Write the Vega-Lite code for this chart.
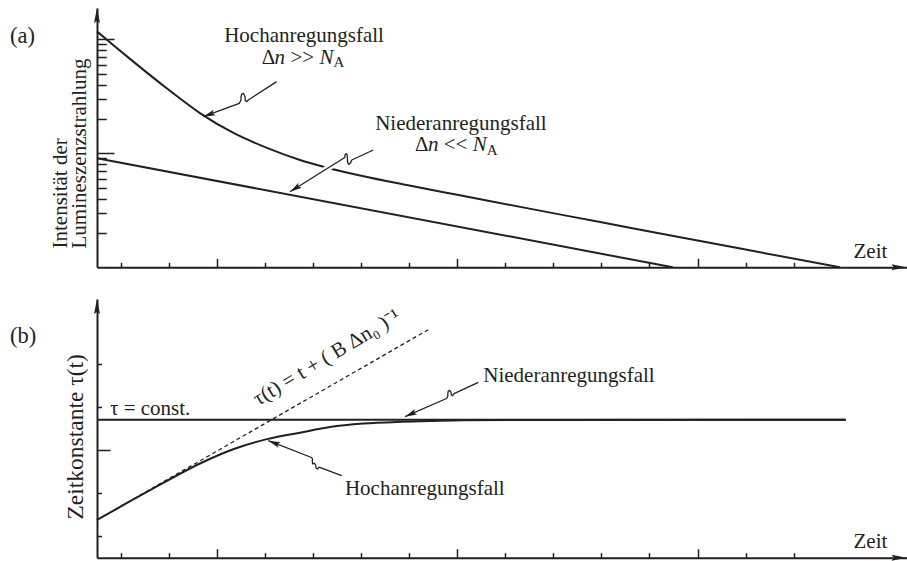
{
  "$schema": "https://vega.github.io/schema/vega-lite/v6.json",
  "padding": {"left": 10, "top": 8, "right": 0, "bottom": 0},
  "bounds": "flush",
  "spacing": 31,
  "config": {
    "view": {"stroke": null},
    "font": "Liberation Serif",
    "axis": {"grid": false, "labels": false, "domainColor": "#231f20", "domainWidth": 2, "tickColor": "#231f20", "tickWidth": 1.5, "titleFont": "Liberation Serif", "titleFontSize": 21, "titleFontWeight": "normal", "titleColor": "#231f20"},
    "text": {"font": "Liberation Serif", "fontSize": 21, "color": "#231f20"}
  },
  "datasets": {
    "aHigh": [{"t":0,"v":117},{"t":0.5,"v":95.6},{"t":1.5,"v":64},{"t":2.9,"v":37.2},{"t":4.3,"v":22.4},{"t":5.7,"v":15.0},{"t":7.1,"v":11.1},{"t":8.45,"v":8.74},{"t":9.42,"v":7.63},{"t":11,"v":6.35},{"t":13,"v":5.21},{"t":15,"v":4.32},{"t":18,"v":3.27},{"t":21,"v":2.48},{"t":24,"v":1.88},{"t":27,"v":1.43},{"t":30.93,"v":1.0}],
    "aLow": [{"t":0,"v":9.04},{"t":23.97,"v":1}],
    "aHalo": [{"t":9.825,"v":7.912},{"t":9.325,"v":6.799}],
    "aLead": [
      {"id":"h","i":0,"t":7.481,"v":42.47},{"id":"h","i":1,"t":6.299,"v":29.35},{"id":"h","i":2,"t":6.232,"v":28.35},{"id":"h","i":3,"t":6.174,"v":29.05},{"id":"h","i":4,"t":6.162,"v":31.37},{"id":"h","i":5,"t":6.091,"v":33.6},{"id":"h","i":6,"t":6.024,"v":32.99},{"id":"h","i":7,"t":5.995,"v":31.18},{"id":"h","i":8,"t":5.995,"v":29.35},{"id":"h","i":9,"t":5.924,"v":27.45},{"id":"h","i":10,"t":4.425,"v":20.95},
      {"id":"n","i":0,"t":11.503,"v":10.69},{"id":"n","i":1,"t":10.604,"v":8.735},{"id":"n","i":2,"t":10.554,"v":8.222},{"id":"n","i":3,"t":10.483,"v":8.009},{"id":"n","i":4,"t":10.433,"v":8.306},{"id":"n","i":5,"t":10.425,"v":9.003},{"id":"n","i":6,"t":10.416,"v":9.663},{"id":"n","i":7,"t":10.375,"v":9.94},{"id":"n","i":8,"t":10.325,"v":9.663},{"id":"n","i":9,"t":10.316,"v":9.188},{"id":"n","i":10,"t":8.035,"v":4.605}
    ],
    "aTipH": [{"t":4.425,"v":20.95}],
    "aTipN": [{"t":8.035,"v":4.605}],
    "aArrUp": [{"t":0,"v":188}],
    "aArrRight": [{"t":33.7,"v":1}],
    "aTag": [{"t":-3.62,"v":92.2,"text":"(a)"}],
    "aTextC": [{"t":8.62,"v":94.7,"text":"Hochanregungsfall"},{"t":15.15,"v":16.01,"text":"Niederanregungsfall"}],
    "aTextL": [{"t":6.857,"v":61.2,"text":"Δ"},{"t":8.052,"v":61.2,"text":">>"},{"t":13.239,"v":10.37,"text":"Δ"},{"t":14.434,"v":10.37,"text":"<<"}],
    "aTextI": [{"t":7.394,"v":61.2,"text":"n"},{"t":9.259,"v":61.2,"text":"N"},{"t":13.776,"v":10.37,"text":"n"},{"t":15.641,"v":10.37,"text":"N"}],
    "aTextS": [{"t":9.842,"v":57.3,"text":"A"},{"t":16.224,"v":9.66,"text":"A"}],
    "bConst": [{"t":0,"y":6.4},{"t":31.17,"y":6.4}],
    "bHigh": [{"t":0,"y":1.75},{"t":2.21,"y":3.13},{"t":4.29,"y":4.37},{"t":5.67,"y":5.03},{"t":7.07,"y":5.5},{"t":8.45,"y":5.8},{"t":9.7,"y":6.06},{"t":11.09,"y":6.22},{"t":12.48,"y":6.3},{"t":13.86,"y":6.34},{"t":15.24,"y":6.375},{"t":18,"y":6.39},{"t":31.17,"y":6.395}],
    "bDash": [{"t":0,"y":1.75},{"t":13.86,"y":10.62}],
    "bLead": [
      {"id":"n","i":0,"t":15.874,"y":8.131},{"id":"n","i":1,"t":14.863,"y":7.607},{"id":"n","i":2,"t":14.804,"y":7.514},{"id":"n","i":3,"t":14.746,"y":7.56},{"id":"n","i":4,"t":14.738,"y":7.676},{"id":"n","i":5,"t":14.679,"y":7.76},{"id":"n","i":6,"t":14.621,"y":7.723},{"id":"n","i":7,"t":14.605,"y":7.607},{"id":"n","i":8,"t":14.605,"y":7.491},{"id":"n","i":9,"t":14.55,"y":7.384},{"id":"n","i":10,"t":12.823,"y":6.54},
      {"id":"h","i":0,"t":10.187,"y":3.803},{"id":"h","i":1,"t":9.242,"y":4.198},{"id":"h","i":2,"t":9.18,"y":4.114},{"id":"h","i":3,"t":9.117,"y":4.161},{"id":"h","i":4,"t":9.109,"y":4.29},{"id":"h","i":5,"t":9.047,"y":4.383},{"id":"h","i":6,"t":8.98,"y":4.346},{"id":"h","i":7,"t":8.963,"y":4.453},{"id":"h","i":8,"t":8.972,"y":4.569},{"id":"h","i":9,"t":8.93,"y":4.647},{"id":"h","i":10,"t":7.132,"y":5.427}
    ],
    "bTipN": [{"t":12.823,"y":6.54}],
    "bTipH": [{"t":7.132,"y":5.427}],
    "bArrUp": [{"t":0,"y":12}],
    "bArrRight": [{"t":33.7,"y":0}],
    "bTag": [{"t":-3.62,"y":9.97,"text":"(b)"}],
    "bTextL": [{"t":0.54,"y":6.6,"text":"τ = const."},{"t":16.08,"y":8.16,"text":"Niederanregungsfall"},{"t":10.32,"y":2.92,"text":"Hochanregungsfall"}],
    "bTextR": [{"t":6.715,"y":7.04,"text":"τ(t) = t + ( B Δn₀ )⁻¹"}]
  },
  "vconcat": [
    {
      "width": 809.5,
      "height": 259.3,
      "layer": [
        {
          "data": {"name": "aHigh"},
          "mark": {"type": "line", "color": "#231f20", "strokeWidth": 2, "interpolate": "monotone"},
          "encoding": {
            "x": {"field": "t", "type": "quantitative", "scale": {"domain": [0, 33.7], "nice": false, "zero": false},
              "axis": {"title": "Zeit", "titleX": 756, "titleY": -10, "titleAlign": "left", "titleBaseline": "alphabetic", "titleAngle": 0,
                "values": [1,2,3,4,5,6,7,8,9,10,11,12,13,14,15,16,17,18,19,20,21,22,23,24,25,26,27,28,29,30],
                "tickSize": {"condition": {"test": "datum.value % 5 === 0", "value": -9}, "value": -5}}},
            "y": {"field": "v", "type": "quantitative", "scale": {"type": "log", "domain": [1, 188], "nice": false},
              "axis": {"title": ["Intensität der", "Lumineszenzstrahlung"], "titleAngle": -90, "titleAlign": "left", "titleBaseline": "alphabetic", "titleX": -31, "titleY": 240, "titleLineHeight": 19,
                "values": [2,3,4,5,6,7,8,9,10,20,30,40,50,60,70,80,90,100],
                "tickSize": {"condition": {"test": "datum.value === 10 || datum.value === 100", "value": -17}, "value": -9.3}}}
          }
        },
        {"data": {"name": "aLow"}, "mark": {"type": "line", "color": "#231f20", "strokeWidth": 2},
          "encoding": {"x": {"field": "t", "type": "quantitative"}, "y": {"field": "v", "type": "quantitative"}}},
        {"data": {"name": "aHalo"}, "mark": {"type": "line", "color": "white", "strokeWidth": 6},
          "encoding": {"x": {"field": "t", "type": "quantitative"}, "y": {"field": "v", "type": "quantitative"}}},
        {"data": {"name": "aLead"}, "mark": {"type": "line", "color": "#231f20", "strokeWidth": 1.3, "interpolate": "linear", "strokeJoin": "round"},
          "encoding": {"x": {"field": "t", "type": "quantitative"}, "y": {"field": "v", "type": "quantitative"}, "detail": {"field": "id"}, "order": {"field": "i", "type": "quantitative"}}},
        {"data": {"name": "aTipH"}, "mark": {"type": "point", "shape": "M0,0 L0.25,1 L0,0.8 L-0.25,1 Z", "filled": true, "size": 576, "opacity": 1, "color": "#231f20", "strokeWidth": 0, "angle": 250},
          "encoding": {"x": {"field": "t", "type": "quantitative"}, "y": {"field": "v", "type": "quantitative"}}},
        {"data": {"name": "aTipN"}, "mark": {"type": "point", "shape": "M0,0 L0.25,1 L0,0.8 L-0.25,1 Z", "filled": true, "size": 576, "opacity": 1, "color": "#231f20", "strokeWidth": 0, "angle": 238},
          "encoding": {"x": {"field": "t", "type": "quantitative"}, "y": {"field": "v", "type": "quantitative"}}},
        {"data": {"name": "aArrUp"}, "mark": {"type": "point", "shape": "M0,0 L0.2,1 L0,0.85 L-0.2,1 Z", "filled": true, "size": 900, "opacity": 1, "color": "#231f20", "strokeWidth": 0, "angle": 0},
          "encoding": {"x": {"field": "t", "type": "quantitative"}, "y": {"field": "v", "type": "quantitative"}}},
        {"data": {"name": "aArrRight"}, "mark": {"type": "point", "shape": "M0,0 L0.2,1 L0,0.85 L-0.2,1 Z", "filled": true, "size": 900, "opacity": 1, "color": "#231f20", "strokeWidth": 0, "angle": 90},
          "encoding": {"x": {"field": "t", "type": "quantitative"}, "y": {"field": "v", "type": "quantitative"}}},
        {"data": {"name": "aTag"}, "mark": {"type": "text", "align": "left", "baseline": "alphabetic", "fontSize": 22.5},
          "encoding": {"x": {"field": "t", "type": "quantitative"}, "y": {"field": "v", "type": "quantitative"}, "text": {"field": "text"}}},
        {"data": {"name": "aTextC"}, "mark": {"type": "text", "align": "center", "baseline": "alphabetic"},
          "encoding": {"x": {"field": "t", "type": "quantitative"}, "y": {"field": "v", "type": "quantitative"}, "text": {"field": "text"}}},
        {"data": {"name": "aTextL"}, "mark": {"type": "text", "align": "left", "baseline": "alphabetic"},
          "encoding": {"x": {"field": "t", "type": "quantitative"}, "y": {"field": "v", "type": "quantitative"}, "text": {"field": "text"}}},
        {"data": {"name": "aTextI"}, "mark": {"type": "text", "align": "left", "baseline": "alphabetic", "fontStyle": "italic"},
          "encoding": {"x": {"field": "t", "type": "quantitative"}, "y": {"field": "v", "type": "quantitative"}, "text": {"field": "text"}}},
        {"data": {"name": "aTextS"}, "mark": {"type": "text", "align": "left", "baseline": "alphabetic", "fontSize": 15},
          "encoding": {"x": {"field": "t", "type": "quantitative"}, "y": {"field": "v", "type": "quantitative"}, "text": {"field": "text"}}}
      ]
    },
    {
      "width": 809.5,
      "height": 258.7,
      "layer": [
        {
          "data": {"name": "bConst"},
          "mark": {"type": "line", "color": "#231f20", "strokeWidth": 2},
          "encoding": {
            "x": {"field": "t", "type": "quantitative", "scale": {"domain": [0, 33.7], "nice": false, "zero": false},
              "axis": {"title": "Zeit", "titleX": 756, "titleY": -10.3, "titleAlign": "left", "titleBaseline": "alphabetic", "titleAngle": 0,
                "values": [1,2,3,4,5,6,7,8,9,10,11,12,13,14,15,16,17,18,19,20,21,22,23,24,25,26,27,28,29,30],
                "tickSize": {"condition": {"test": "datum.value % 5 === 0", "value": -9}, "value": -5}}},
            "y": {"field": "y", "type": "quantitative", "scale": {"domain": [0, 12], "nice": false, "zero": false},
              "axis": {"title": "Zeitkonstante τ(t)", "titleFontSize": 23.5, "titleAngle": -90, "titleAlign": "left", "titleBaseline": "alphabetic", "titleX": -15, "titleY": 220,
                "values": [1,2,3,4,5,6,7,8,9,10],
                "tickSize": {"condition": {"test": "datum.value % 5 === 0", "value": -13}, "value": -4.5}}}
          }
        },
        {"data": {"name": "bHigh"}, "mark": {"type": "line", "color": "#231f20", "strokeWidth": 2, "interpolate": "monotone"},
          "encoding": {"x": {"field": "t", "type": "quantitative"}, "y": {"field": "y", "type": "quantitative"}}},
        {"data": {"name": "bDash"}, "mark": {"type": "line", "color": "#231f20", "strokeWidth": 1.3, "strokeDash": [4, 3]},
          "encoding": {"x": {"field": "t", "type": "quantitative"}, "y": {"field": "y", "type": "quantitative"}}},
        {"data": {"name": "bLead"}, "mark": {"type": "line", "color": "#231f20", "strokeWidth": 1.3, "strokeJoin": "round"},
          "encoding": {"x": {"field": "t", "type": "quantitative"}, "y": {"field": "y", "type": "quantitative"}, "detail": {"field": "id"}, "order": {"field": "i", "type": "quantitative"}}},
        {"data": {"name": "bTipN"}, "mark": {"type": "point", "shape": "M0,0 L0.25,1 L0,0.8 L-0.25,1 Z", "filled": true, "size": 576, "opacity": 1, "color": "#231f20", "strokeWidth": 0, "angle": 246},
          "encoding": {"x": {"field": "t", "type": "quantitative"}, "y": {"field": "y", "type": "quantitative"}}},
        {"data": {"name": "bTipH"}, "mark": {"type": "point", "shape": "M0,0 L0.25,1 L0,0.8 L-0.25,1 Z", "filled": true, "size": 576, "opacity": 1, "color": "#231f20", "strokeWidth": 0, "angle": 291},
          "encoding": {"x": {"field": "t", "type": "quantitative"}, "y": {"field": "y", "type": "quantitative"}}},
        {"data": {"name": "bArrUp"}, "mark": {"type": "point", "shape": "M0,0 L0.2,1 L0,0.85 L-0.2,1 Z", "filled": true, "size": 900, "opacity": 1, "color": "#231f20", "strokeWidth": 0, "angle": 0},
          "encoding": {"x": {"field": "t", "type": "quantitative"}, "y": {"field": "y", "type": "quantitative"}}},
        {"data": {"name": "bArrRight"}, "mark": {"type": "point", "shape": "M0,0 L0.2,1 L0,0.85 L-0.2,1 Z", "filled": true, "size": 900, "opacity": 1, "color": "#231f20", "strokeWidth": 0, "angle": 90},
          "encoding": {"x": {"field": "t", "type": "quantitative"}, "y": {"field": "y", "type": "quantitative"}}},
        {"data": {"name": "bTag"}, "mark": {"type": "text", "align": "left", "baseline": "alphabetic", "fontSize": 22.5},
          "encoding": {"x": {"field": "t", "type": "quantitative"}, "y": {"field": "y", "type": "quantitative"}, "text": {"field": "text"}}},
        {"data": {"name": "bTextL"}, "mark": {"type": "text", "align": "left", "baseline": "alphabetic"},
          "encoding": {"x": {"field": "t", "type": "quantitative"}, "y": {"field": "y", "type": "quantitative"}, "text": {"field": "text"}}},
        {"data": {"name": "bTextR"}, "mark": {"type": "text", "align": "left", "baseline": "alphabetic", "angle": -31},
          "encoding": {"x": {"field": "t", "type": "quantitative"}, "y": {"field": "y", "type": "quantitative"}, "text": {"field": "text"}}}
      ]
    }
  ]
}
